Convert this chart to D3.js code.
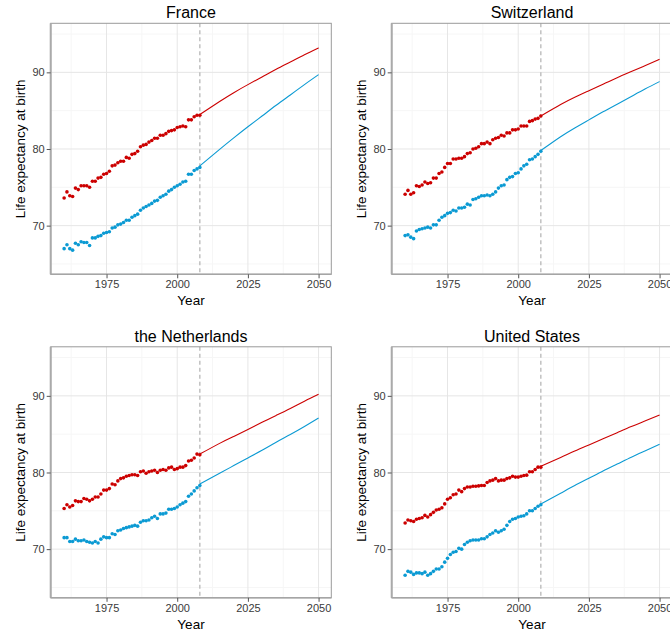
<!DOCTYPE html>
<html>
<head>
<meta charset="utf-8">
<script src="https://cdn.jsdelivr.net/npm/d3@7"></script>
<style>
  body { margin: 0; background: #fff; }
  svg { display: block; font-family: "Liberation Sans", Arial, sans-serif; }
</style>
</head>
<body>
<svg id="chart" width="670" height="634"></svg>
<script>
// observed years and forecast years
const obsYears = d3.range(1960, 2009);
const fcYears = [2008, 2015, 2020, 2025, 2030, 2035, 2040, 2045, 2050];

// France
const franceFemale = [73.6, 74.4, 73.9, 73.8, 74.9, 74.7, 75.2, 75.2, 75.2, 75.0,
  75.8, 75.8, 76.2, 76.3, 76.7, 76.8, 77.1, 77.8, 77.9, 78.2,
  78.4, 78.4, 78.9, 78.8, 79.3, 79.4, 79.7, 80.3, 80.5, 80.6,
  80.9, 81.1, 81.4, 81.4, 81.8, 81.8, 82.0, 82.3, 82.4, 82.5,
  82.8, 82.9, 83.0, 82.9, 83.8, 83.8, 84.2, 84.4, 84.4];
const franceMale = [67.0, 67.5, 67.0, 66.8, 67.7, 67.5, 67.9, 67.8, 67.8, 67.4,
  68.4, 68.4, 68.6, 68.7, 69.0, 69.1, 69.2, 69.7, 69.8, 70.1,
  70.2, 70.4, 70.7, 70.7, 71.1, 71.3, 71.5, 72.0, 72.3, 72.5,
  72.7, 72.9, 73.2, 73.3, 73.7, 73.9, 74.1, 74.5, 74.7, 75.0,
  75.2, 75.4, 75.7, 75.8, 76.7, 76.7, 77.2, 77.4, 77.6];
const franceFemaleFc = [84.5, 86.2, 87.35, 88.4, 89.4, 90.4, 91.35, 92.3, 93.2];
const franceMaleFc = [77.8, 79.95, 81.45, 82.9, 84.3, 85.7, 87.05, 88.4, 89.7];

// Switzerland
const swissFemale = [74.1, 74.6, 74.1, 74.3, 75.2, 75.1, 75.3, 75.7, 75.5, 75.6,
  76.2, 76.2, 76.8, 77.0, 77.6, 78.1, 78.1, 78.7, 78.7, 78.8,
  78.8, 79.0, 79.4, 79.5, 80.0, 80.1, 80.3, 80.7, 80.7, 80.9,
  80.7, 81.2, 81.4, 81.5, 81.8, 81.7, 82.1, 82.1, 82.5, 82.5,
  82.6, 83.0, 83.0, 83.0, 83.6, 83.7, 83.9, 84.0, 84.3];
const swissMale = [68.7, 68.8, 68.5, 68.3, 69.3, 69.5, 69.6, 69.7, 69.8, 69.7,
  70.1, 70.1, 70.7, 71.1, 71.3, 71.6, 71.7, 72.0, 71.9, 72.3,
  72.3, 72.4, 72.8, 72.7, 73.4, 73.5, 73.7, 73.9, 73.9, 74.0,
  73.9, 74.1, 74.4, 74.9, 75.2, 75.3, 76.0, 76.3, 76.4, 76.8,
  76.9, 77.4, 77.8, 78.0, 78.6, 78.7, 79.0, 79.3, 79.7];
const swissFemaleFc = [84.3, 85.8, 86.75, 87.6, 88.45, 89.3, 90.1, 90.9, 91.7];
const swissMaleFc = [79.8, 81.6, 82.75, 83.8, 84.85, 85.85, 86.85, 87.85, 88.8];

// the Netherlands
const dutchFemale = [75.3, 75.8, 75.5, 75.7, 76.3, 76.2, 76.2, 76.6, 76.5, 76.3,
  76.5, 76.8, 76.8, 77.2, 77.7, 77.7, 77.9, 78.5, 78.4, 78.9,
  79.2, 79.3, 79.5, 79.6, 79.7, 79.7, 79.6, 80.1, 80.2, 79.9,
  80.1, 80.2, 80.3, 80.0, 80.3, 80.4, 80.3, 80.6, 80.7, 80.4,
  80.5, 80.7, 80.7, 80.9, 81.5, 81.6, 81.9, 82.4, 82.3];
const dutchMale = [71.5, 71.5, 71.0, 71.0, 71.3, 71.1, 71.1, 71.2, 71.0, 70.9,
  70.8, 71.0, 70.8, 71.3, 71.6, 71.5, 71.5, 72.0, 71.9, 72.4,
  72.5, 72.7, 72.8, 72.9, 73.0, 73.1, 73.0, 73.5, 73.7, 73.7,
  73.8, 74.1, 74.3, 74.0, 74.6, 74.6, 74.7, 75.2, 75.2, 75.3,
  75.5, 75.8, 76.0, 76.2, 76.9, 77.2, 77.6, 78.0, 78.3];
const dutchFemaleFc = [82.4, 83.8, 84.7, 85.6, 86.55, 87.45, 88.35, 89.3, 90.2];
const dutchMaleFc = [78.5, 79.9, 80.9, 81.9, 82.9, 83.95, 84.95, 86.0, 87.1];

// United States
const usFemale = [73.4, 73.8, 73.7, 73.6, 73.9, 74.0, 74.1, 74.4, 74.2, 74.5,
  74.8, 75.1, 75.2, 75.4, 75.9, 76.5, 76.7, 77.1, 77.2, 77.7,
  77.5, 77.9, 78.1, 78.1, 78.2, 78.2, 78.25, 78.3, 78.3, 78.7,
  78.9, 79.0, 79.2, 78.9, 79.0, 79.0, 79.2, 79.3, 79.5, 79.4,
  79.4, 79.5, 79.6, 79.65, 80.1, 80.1, 80.4, 80.7, 80.7];
const usMale = [66.6, 67.1, 67.0, 66.7, 66.9, 66.9, 66.8, 67.0, 66.6, 66.8,
  67.1, 67.4, 67.4, 67.7, 68.3, 68.8, 69.3, 69.6, 69.7, 70.1,
  70.0, 70.6, 70.9, 71.1, 71.2, 71.2, 71.2, 71.35, 71.35, 71.6,
  71.9, 72.1, 72.4, 72.2, 72.4, 72.6, 73.1, 73.6, 73.9, 74.0,
  74.2, 74.3, 74.35, 74.6, 75.0, 75.0, 75.3, 75.6, 75.8];
const usFemaleFc = [80.8, 81.95, 82.8, 83.6, 84.4, 85.2, 86.0, 86.75, 87.5];
const usMaleFc = [75.9, 77.3, 78.3, 79.25, 80.2, 81.1, 82.0, 82.85, 83.7];

const panels = [
  { title: "France", female: franceFemale, male: franceMale, femaleFc: franceFemaleFc, maleFc: franceMaleFc },
  { title: "Switzerland", female: swissFemale, male: swissMale, femaleFc: swissFemaleFc, maleFc: swissMaleFc },
  { title: "the Netherlands", female: dutchFemale, male: dutchMale, femaleFc: dutchFemaleFc, maleFc: dutchMaleFc },
  { title: "United States", female: usFemale, male: usMale, femaleFc: usFemaleFc, maleFc: usMaleFc }
];

const xMajor = [1975, 2000, 2025, 2050];
const xMinor = [1962.5, 1987.5, 2012.5, 2037.5];
const yMajor = [70, 80, 90];
const yMinor = [65, 75, 85, 95];
const cutYear = 2008;

const red = "#cc0000";
const blue = "#0b9ad3";

const cellW = 341, cellH = 323.5;
const m = { left: 50.7, top: 23.3 };
const pw = 280.6, ph = 251;

const x = d3.scaleLinear().domain([1955.25, 2054.5]).range([0, pw]);
const y = d3.scaleLinear().domain([63.65, 96.4]).range([ph, 0]);

const svg = d3.select("#chart");

panels.forEach((p, i) => {
  const col = i % 2, row = Math.floor(i / 2);
  const cell = svg.append("g")
    .attr("transform", `translate(${col * cellW},${row * cellH})`);
  const g = cell.append("g").attr("transform", `translate(${m.left},${m.top})`);

  g.append("rect").attr("width", pw).attr("height", ph).attr("fill", "#fff");

  // minor grid
  g.selectAll(".xmin").data(xMinor).enter().append("line")
    .attr("x1", d => x(d)).attr("x2", d => x(d)).attr("y1", 0).attr("y2", ph)
    .attr("stroke", "#f6f6f6").attr("stroke-width", 1);
  g.selectAll(".ymin").data(yMinor).enter().append("line")
    .attr("y1", d => y(d)).attr("y2", d => y(d)).attr("x1", 0).attr("x2", pw)
    .attr("stroke", "#f6f6f6").attr("stroke-width", 1);
  // major grid
  g.selectAll(".xmaj").data(xMajor).enter().append("line")
    .attr("x1", d => x(d)).attr("x2", d => x(d)).attr("y1", 0).attr("y2", ph)
    .attr("stroke", "#e6e6e6").attr("stroke-width", 1);
  g.selectAll(".ymaj").data(yMajor).enter().append("line")
    .attr("y1", d => y(d)).attr("y2", d => y(d)).attr("x1", 0).attr("x2", pw)
    .attr("stroke", "#e6e6e6").attr("stroke-width", 1);

  // dashed cut line
  g.append("line")
    .attr("x1", x(cutYear)).attr("x2", x(cutYear)).attr("y1", 0).attr("y2", ph)
    .attr("stroke", "#b8b8b8").attr("stroke-width", 1.3)
    .attr("stroke-dasharray", "4,3");

  // forecast lines
  const line = d3.line()
    .x((d, j) => x(fcYears[j]))
    .y(d => y(d))
    .curve(d3.curveNatural);
  g.append("path").attr("d", line(p.femaleFc))
    .attr("fill", "none").attr("stroke", red).attr("stroke-width", 1.1);
  g.append("path").attr("d", line(p.maleFc))
    .attr("fill", "none").attr("stroke", blue).attr("stroke-width", 1.1);

  // observed points
  [[p.female, red], [p.male, blue]].forEach(([vals, c]) => {
    g.append("g").selectAll("circle").data(vals).enter().append("circle")
      .attr("cx", (d, j) => x(obsYears[j]))
      .attr("cy", d => y(d))
      .attr("r", 1.8)
      .attr("fill", c);
  });

  // border
  g.append("rect").attr("width", pw).attr("height", ph)
    .attr("fill", "none").attr("stroke", "#9a9a9a").attr("stroke-width", 1);
  g.append("line").attr("x1", 0).attr("x2", 0).attr("y1", 0).attr("y2", ph)
    .attr("stroke", "#aaaaaa").attr("stroke-width", 2);
  g.append("line").attr("x1", 0).attr("x2", pw).attr("y1", ph).attr("y2", ph)
    .attr("stroke", "#a5a5a5").attr("stroke-width", 1.5);

  // axes
  const xAxis = g.append("g").attr("transform", `translate(0,${ph})`)
    .call(d3.axisBottom(x).tickValues(xMajor).tickSize(4).tickPadding(2).tickFormat(d3.format("d")));
  const yAxis = g.append("g")
    .call(d3.axisLeft(y).tickValues(yMajor).tickSize(4).tickPadding(2));
  [xAxis, yAxis].forEach(a => {
    a.select(".domain").remove();
    a.selectAll(".tick line").attr("stroke", "#555");
    a.selectAll(".tick text").attr("fill", "#3a3a3a").style("font-size", "11px")
      .style("font-family", "'Liberation Sans', Arial, sans-serif");
  });

  // titles
  g.append("text").attr("x", pw / 2).attr("y", -5)
    .attr("text-anchor", "middle").style("font-size", "16px").attr("fill", "#000")
    .text(p.title);
  g.append("text").attr("x", pw / 2).attr("y", ph + 31)
    .attr("text-anchor", "middle").style("font-size", "13.5px").attr("fill", "#000")
    .text("Year");
  g.append("text")
    .attr("transform", `translate(${-26},${ph / 2}) rotate(-90)`)
    .attr("text-anchor", "middle").style("font-size", "13.5px").attr("fill", "#000")
    .text("Life expectancy at birth");
});
</script>
</body>
</html>
